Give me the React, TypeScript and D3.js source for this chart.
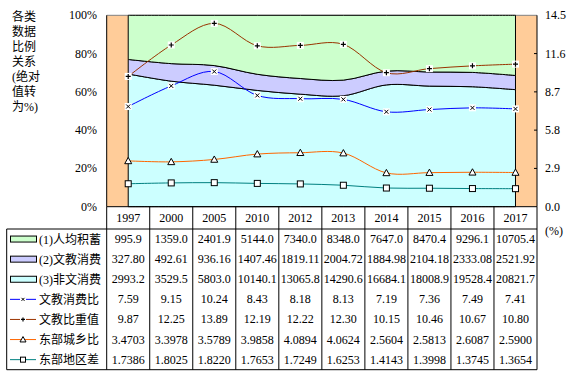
import React from 'react';
import * as d3 from 'd3';

const years = ['1997', '2000', '2005', '2010', '2012', '2013', '2014', '2015', '2016', '2017'];
const savings = [995.9, 1359.0, 2401.9, 5144.0, 7340.0, 8348.0, 7647.0, 8470.4, 9296.1, 10705.4];
const eduSpend = [327.80, 492.61, 936.16, 1407.46, 1819.11, 2004.72, 1884.98, 2104.18, 2333.08, 2521.92];
const otherSpend = [2993.2, 3529.5, 5803.0, 10140.1, 13065.8, 14290.6, 16684.1, 18008.9, 19528.4, 20821.7];
const eduRatio = [7.59, 9.15, 10.24, 8.43, 8.18, 8.13, 7.19, 7.36, 7.49, 7.41];
const eduWeight = [9.87, 12.25, 13.89, 12.19, 12.22, 12.30, 10.15, 10.46, 10.67, 10.80];
const eastUrbanRural = [3.4703, 3.3978, 3.5789, 3.9858, 4.0894, 4.0624, 2.5604, 2.5813, 2.6087, 2.5900];
const eastRegionGap = [1.7386, 1.8025, 1.8220, 1.7653, 1.7249, 1.6253, 1.4143, 1.3998, 1.3745, 1.3654];
const leftTicks = [0, 0.2, 0.4, 0.6, 0.8, 1];
const rightTicks = [0, 2.9, 5.8, 8.7, 11.6, 14.5];
const titleLines = ['各类', '数据', '比例', '关系', '(绝对', '值转', '为%)'];

const W = 577, H = 376;
const X0 = 106.7, X1 = 537;
const YTOP = 15.3, YBOT = 206.7;
const HEADER_B = 229;
const ROW_H = 20.1;
const TABLE_L = 6.7;

const NUM_FONT = '"Liberation Serif", "Times New Roman", "Noto Sans CJK SC", serif';

type Row = {
  label: string; values: number[]; digits: number; kind: 'area' | 'line';
  color: string; marker?: 'x' | 'plus' | 'tri' | 'sq';
};

const rows: Row[] = [
  { label: '(1)人均积蓄', values: savings, digits: 1, kind: 'area', color: '#CCFFCC' },
  { label: '(2)文教消费', values: eduSpend, digits: 2, kind: 'area', color: '#CCCCFF' },
  { label: '(3)非文消费', values: otherSpend, digits: 1, kind: 'area', color: '#CCFFFF' },
  { label: '文教消费比', values: eduRatio, digits: 2, kind: 'line', color: '#0000FF', marker: 'x' },
  { label: '文教比重值', values: eduWeight, digits: 2, kind: 'line', color: '#993300', marker: 'plus' },
  { label: '东部城乡比', values: eastUrbanRural, digits: 4, kind: 'line', color: '#FF6600', marker: 'tri' },
  { label: '东部地区差', values: eastRegionGap, digits: 4, kind: 'line', color: '#008080', marker: 'sq' },
];

function Marker({ type, x, y, s = 3.5 }: { type: string; x: number; y: number; s?: number }) {
  if (type === 'x' || type === 'plus') {
    const a = s - 1;
    return (
      <g>
        <rect x={x - s} y={y - s} width={2 * s} height={2 * s} fill="#fff" />
        {type === 'x' ? (
          <path d={`M${x - a + 0.5},${y - a + 0.5}L${x + a - 0.5},${y + a - 0.5}M${x - a + 0.5},${y + a - 0.5}L${x + a - 0.5},${y - a + 0.5}`} stroke="#000" strokeWidth={1} />
        ) : (
          <path d={`M${x - a},${y}L${x + a},${y}M${x},${y - a}L${x},${y + a}`} stroke="#000" strokeWidth={1.2} />
        )}
      </g>
    );
  }
  if (type === 'tri') {
    return <path d={`M${x},${y - s}L${x + s},${y + s * 0.8}L${x - s},${y + s * 0.8}Z`} fill="#fff" stroke="#000" strokeWidth={1} />;
  }
  return <rect x={x - s + 0.5} y={y - s + 0.5} width={2 * s - 1} height={2 * s - 1} fill="#fff" stroke="#000" strokeWidth={1} />;
}

export default function App() {
  const xBand = d3.scaleBand<string>().domain(years).range([X0, X1]).padding(0);
  const bw = xBand.bandwidth();
  const cx = (i: number) => (xBand(years[i]) as number) + bw / 2;
  const yL = d3.scaleLinear().domain([0, 1]).range([YBOT, YTOP]);
  const yR = d3.scaleLinear().domain([0, 14.5]).range([YBOT, YTOP]);
  const curve = d3.curveCardinal.tension(0);

  const stackData = years.map((yr, i) => ({ yr, s1: savings[i], s2: eduSpend[i], s3: otherSpend[i] }));
  const stack = d3.stack<any>().keys(['s3', 's2', 's1']).offset(d3.stackOffsetExpand);
  const series = stack(stackData);
  const areaColors: Record<string, string> = { s3: '#CCFFFF', s2: '#CCCCFF', s1: '#CCFFCC' };
  const area = d3.area<any>()
    .x((_d, i) => cx(i))
    .y0((d) => yL(d[0]))
    .y1((d) => yL(d[1]))
    .curve(curve);

  const line = d3.line<number>().x((_d, i) => cx(i)).y((d) => yR(d)).curve(curve);
  const lineRows = rows.filter((r) => r.kind === 'line');

  const tableBottom = HEADER_B + ROW_H * rows.length;

  return (
    <svg width={W} height={H} style={{ position: 'absolute', left: 0, top: 0, display: 'block', background: '#fff' }}>
      {/* title */}
      {titleLines.map((t, i) => (
        <text key={t} x={12} y={20.5 + i * 15} fontSize={12} fontFamily={NUM_FONT} fill="#000">{t}</text>
      ))}

      {/* plot background */}
      <rect x={X0} y={YTOP} width={X1 - X0} height={YBOT - YTOP} fill="#FFCC99" />
      <line x1={X0} x2={X1} y1={YTOP} y2={YTOP} stroke="#808080" />

      {/* stacked areas */}
      {series.map((s) => (
        <path key={s.key} d={area(s as any) || ''} fill={areaColors[s.key]} stroke="#000" strokeWidth={1} />
      ))}

      {/* lines */}
      {lineRows.map((r) => (
        <path key={r.label} d={line(r.values) || ''} fill="none" stroke={r.color} strokeWidth={1} />
      ))}
      {lineRows.map((r) =>
        r.values.map((v, i) => <Marker key={r.label + i} type={r.marker as string} x={cx(i)} y={yR(v)} />)
      )}

      {/* axes */}
      <line x1={X0} x2={X0} y1={YTOP} y2={YBOT} stroke="#000" />
      <line x1={X1} x2={X1} y1={YTOP} y2={YBOT} stroke="#000" />
      {leftTicks.map((t) => (
        <text key={t} x={97} y={yL(t) + 4} fontSize={12} fontFamily={NUM_FONT} textAnchor="end">{`${Math.round(t * 100)}%`}</text>
      ))}
      {rightTicks.map((t) => (
        <g key={t}>
          {t > 0 && t < 14.5 && <line x1={X1 - 3} x2={X1} y1={yR(t)} y2={yR(t)} stroke="#000" />}
          <text x={545} y={yR(t) + 4} fontSize={12} fontFamily={NUM_FONT}>{t.toFixed(1)}</text>
        </g>
      ))}
      <text x={545} y={235} fontSize={12} fontFamily={NUM_FONT}>(%)</text>

      {/* table */}
      <line x1={X0} x2={X1} y1={YBOT} y2={YBOT} stroke="#000" />
      <line x1={TABLE_L} x2={X1} y1={HEADER_B} y2={HEADER_B} stroke="#000" />
      <line x1={TABLE_L} x2={X1} y1={tableBottom} y2={tableBottom} stroke="#000" />
      <line x1={TABLE_L} x2={TABLE_L} y1={HEADER_B} y2={tableBottom} stroke="#000" />
      {years.map((yr) => (
        <line key={'v' + yr} x1={xBand(yr) as number} x2={xBand(yr) as number} y1={YBOT} y2={tableBottom} stroke="#000" />
      ))}
      <line x1={X1} x2={X1} y1={YBOT} y2={tableBottom} stroke="#000" />
      {years.map((yr, i) => (
        <text key={'h' + yr} x={cx(i)} y={(YBOT + HEADER_B) / 2 + 4} fontSize={12} fontFamily={NUM_FONT} textAnchor="middle">{yr}</text>
      ))}
      {rows.map((r, ri) => {
        const yc = HEADER_B + ROW_H * (ri + 0.5);
        return (
          <g key={r.label}>
            {r.kind === 'area' ? (
              <rect x={10.5} y={yc - 3} width={26} height={6} fill={r.color} stroke="#000" strokeWidth={1} />
            ) : (
              <g>
                <line x1={10} x2={36} y1={yc} y2={yc} stroke={r.color} strokeWidth={1} />
                <Marker type={r.marker as string} x={23} y={yc} s={3} />
              </g>
            )}
            <text x={39} y={yc + 4.5} fontSize={12} fontFamily={NUM_FONT}>{r.label}</text>
            {r.values.map((v, i) => (
              <text key={i} x={cx(i)} y={yc + 4} fontSize={12} fontFamily={NUM_FONT} textAnchor="middle">{v.toFixed(r.digits)}</text>
            ))}
          </g>
        );
      })}
    </svg>
  );
}
